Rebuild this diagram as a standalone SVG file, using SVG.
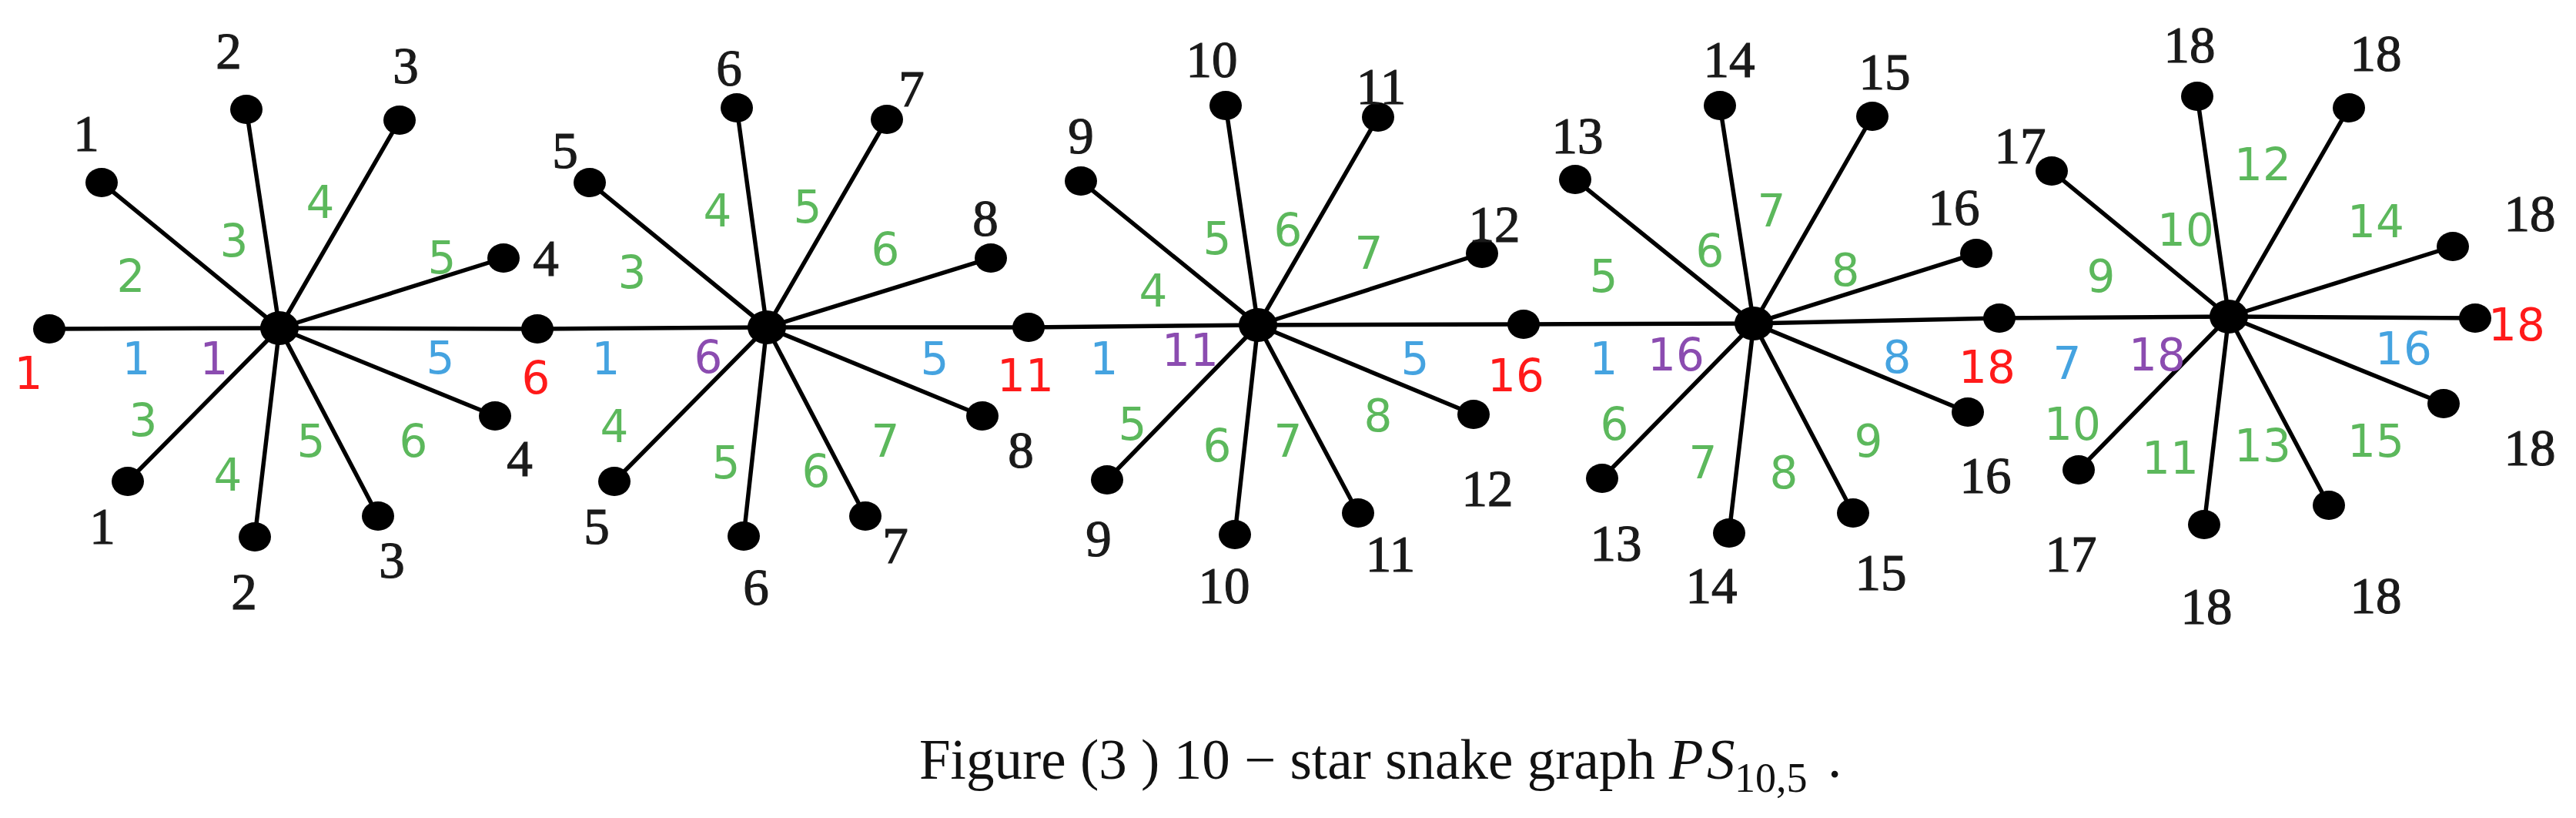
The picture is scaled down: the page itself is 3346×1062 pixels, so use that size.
<svg xmlns="http://www.w3.org/2000/svg" width="3346" height="1062" viewBox="0 0 3346 1062">
<style>
.e{stroke:#000;stroke-width:5.5;fill:none}
.n{fill:#000}
text{text-anchor:middle;dominant-baseline:central}
.k{font-family:"Liberation Serif",serif;font-size:67px;fill:#1a1a1a;stroke:#1a1a1a;stroke-width:1.2}
.g{font-family:"DejaVu Sans",sans-serif;font-size:58px;fill:#5cb85c}
.b{font-family:"DejaVu Sans",sans-serif;font-size:58px;fill:#45a3e0}
.p{font-family:"DejaVu Sans",sans-serif;font-size:58px;fill:#8b4cb0}
.r{font-family:"DejaVu Sans",sans-serif;font-size:58px;fill:#ff1a1a}
.cap{font-family:"Liberation Serif",serif;font-size:73px;fill:#111;text-anchor:start;dominant-baseline:auto}
.cap.sub{font-size:54px}
</style>
<rect width="3346" height="1062" fill="#fff"/>
<g id="connectors">
<polyline class="e" points="64,427 363,426 698,427 996,425 1336,425 1634,422 1979,421 2278,420 2597,413 2895,411 3215,413"/>
<path class="e" d="M363,426L132,237M363,426L320,142M363,426L519,156M363,426L654,335M363,426L643,540M363,426L491,670M363,426L331,697M363,426L166,625"/>
<path class="e" d="M996,425L766,237M996,425L957,140M996,425L1152,155M996,425L1287,335M996,425L1276,540M996,425L1124,670M996,425L966,696M996,425L798,625"/>
<path class="e" d="M1634,422L1404,235M1634,422L1592,137M1634,422L1790,152M1634,422L1925,329M1634,422L1914,538M1634,422L1764,666M1634,422L1604,694M1634,422L1438,623"/>
<path class="e" d="M2278,420L2046,233M2278,420L2234,137M2278,420L2432,151M2278,420L2567,329M2278,420L2556,535M2278,420L2407,666M2278,420L2246,692M2278,420L2081,621"/>
<path class="e" d="M2895,411L2665,222M2895,411L2854,125M2895,411L3051,140M2895,411L3186,320M2895,411L3174,524M2895,411L3025,656M2895,411L2863,681M2895,411L2700,610"/>
</g>
<g id="path-nodes">
<g id="v0"><ellipse class="n" cx="64" cy="427" rx="21" ry="19"/><text class="r" x="37" y="485">1</text></g>
<g id="v1"><ellipse class="n" cx="698" cy="427" rx="21" ry="19"/><text class="r" x="696" y="491">6</text></g>
<g id="v2"><ellipse class="n" cx="1336" cy="425" rx="21" ry="19"/><text class="r" x="1332" y="488">11</text></g>
<g id="v3"><ellipse class="n" cx="1979" cy="421" rx="21" ry="19"/><text class="r" x="1969" y="488">16</text></g>
<g id="v4"><ellipse class="n" cx="2597" cy="413" rx="21" ry="19"/><text class="r" x="2581" y="477">18</text></g>
<g id="v5"><ellipse class="n" cx="3215" cy="413" rx="21" ry="19"/><text class="r" x="3269" y="422">18</text></g>
</g>
<g id="star1">
<ellipse class="n" cx="363" cy="426" rx="25" ry="22"/>
<ellipse class="n" cx="132" cy="237" rx="21" ry="19"/><ellipse class="n" cx="320" cy="142" rx="21" ry="19"/><ellipse class="n" cx="519" cy="156" rx="21" ry="19"/><ellipse class="n" cx="654" cy="335" rx="21" ry="19"/><ellipse class="n" cx="643" cy="540" rx="21" ry="19"/><ellipse class="n" cx="491" cy="670" rx="21" ry="19"/><ellipse class="n" cx="331" cy="697" rx="21" ry="19"/><ellipse class="n" cx="166" cy="625" rx="21" ry="19"/>
<text class="k" x="112" y="173">1</text><text class="k" x="297" y="66">2</text><text class="k" x="527" y="85">3</text><text class="k" x="709" y="335">4</text><text class="k" x="675" y="595">4</text><text class="k" x="509" y="727">3</text><text class="k" x="317" y="768">2</text><text class="k" x="133" y="683">1</text>
<text class="g" x="170" y="359">2</text><text class="g" x="304" y="313">3</text><text class="g" x="416" y="263">4</text><text class="g" x="574" y="335">5</text><text class="g" x="186" y="546">3</text><text class="g" x="296" y="617">4</text><text class="g" x="404" y="573">5</text><text class="g" x="537" y="573">6</text>
<text class="b" x="177" y="466">1</text><text class="p" x="278" y="466">1</text><text class="b" x="572" y="465">5</text>
</g>
<g id="star2">
<ellipse class="n" cx="996" cy="425" rx="25" ry="22"/>
<ellipse class="n" cx="766" cy="237" rx="21" ry="19"/><ellipse class="n" cx="957" cy="140" rx="21" ry="19"/><ellipse class="n" cx="1152" cy="155" rx="21" ry="19"/><ellipse class="n" cx="1287" cy="335" rx="21" ry="19"/><ellipse class="n" cx="1276" cy="540" rx="21" ry="19"/><ellipse class="n" cx="1124" cy="670" rx="21" ry="19"/><ellipse class="n" cx="966" cy="696" rx="21" ry="19"/><ellipse class="n" cx="798" cy="625" rx="21" ry="19"/>
<text class="k" x="734" y="195">5</text><text class="k" x="947" y="88">6</text><text class="k" x="1184" y="115">7</text><text class="k" x="1280" y="283">8</text><text class="k" x="1326" y="584">8</text><text class="k" x="1163" y="708">7</text><text class="k" x="982" y="762">6</text><text class="k" x="775" y="683">5</text>
<text class="g" x="821" y="354">3</text><text class="g" x="932" y="274">4</text><text class="g" x="1049" y="269">5</text><text class="g" x="1150" y="324">6</text><text class="g" x="798" y="554">4</text><text class="g" x="943" y="601">5</text><text class="g" x="1060" y="612">6</text><text class="g" x="1150" y="573">7</text>
<text class="b" x="787" y="466">1</text><text class="p" x="920" y="464">6</text><text class="b" x="1214" y="466">5</text>
</g>
<g id="star3">
<ellipse class="n" cx="1634" cy="422" rx="25" ry="22"/>
<ellipse class="n" cx="1404" cy="235" rx="21" ry="19"/><ellipse class="n" cx="1592" cy="137" rx="21" ry="19"/><ellipse class="n" cx="1790" cy="152" rx="21" ry="19"/><ellipse class="n" cx="1925" cy="329" rx="21" ry="19"/><ellipse class="n" cx="1914" cy="538" rx="21" ry="19"/><ellipse class="n" cx="1764" cy="666" rx="21" ry="19"/><ellipse class="n" cx="1604" cy="694" rx="21" ry="19"/><ellipse class="n" cx="1438" cy="623" rx="21" ry="19"/>
<text class="k" x="1404" y="176">9</text><text class="k" x="1574" y="77">10</text><text class="k" x="1794" y="112">11</text><text class="k" x="1941" y="291">12</text><text class="k" x="1932" y="634">12</text><text class="k" x="1806" y="719">11</text><text class="k" x="1590" y="760">10</text><text class="k" x="1427" y="699">9</text>
<text class="g" x="1498" y="378">4</text><text class="g" x="1581" y="310">5</text><text class="g" x="1673" y="299">6</text><text class="g" x="1778" y="329">7</text><text class="g" x="1471" y="551">5</text><text class="g" x="1581" y="579">6</text><text class="g" x="1673" y="573">7</text><text class="g" x="1790" y="540">8</text>
<text class="b" x="1434" y="466">1</text><text class="p" x="1546" y="455">11</text><text class="b" x="1838" y="466">5</text>
</g>
<g id="star4">
<ellipse class="n" cx="2278" cy="420" rx="25" ry="22"/>
<ellipse class="n" cx="2046" cy="233" rx="21" ry="19"/><ellipse class="n" cx="2234" cy="137" rx="21" ry="19"/><ellipse class="n" cx="2432" cy="151" rx="21" ry="19"/><ellipse class="n" cx="2567" cy="329" rx="21" ry="19"/><ellipse class="n" cx="2556" cy="535" rx="21" ry="19"/><ellipse class="n" cx="2407" cy="666" rx="21" ry="19"/><ellipse class="n" cx="2246" cy="692" rx="21" ry="19"/><ellipse class="n" cx="2081" cy="621" rx="21" ry="19"/>
<text class="k" x="2049" y="176">13</text><text class="k" x="2246" y="77">14</text><text class="k" x="2448" y="93">15</text><text class="k" x="2538" y="269">16</text><text class="k" x="2579" y="617">16</text><text class="k" x="2443" y="743">15</text><text class="k" x="2223" y="760">14</text><text class="k" x="2099" y="705">13</text>
<text class="g" x="2083" y="359">5</text><text class="g" x="2221" y="326">6</text><text class="g" x="2301" y="274">7</text><text class="g" x="2397" y="351">8</text><text class="g" x="2097" y="551">6</text><text class="g" x="2212" y="601">7</text><text class="g" x="2317" y="614">8</text><text class="g" x="2427" y="573">9</text>
<text class="b" x="2083" y="466">1</text><text class="p" x="2177" y="461">16</text><text class="b" x="2464" y="464">8</text>
</g>
<g id="star5">
<ellipse class="n" cx="2895" cy="411" rx="25" ry="22"/>
<ellipse class="n" cx="2665" cy="222" rx="21" ry="19"/><ellipse class="n" cx="2854" cy="125" rx="21" ry="19"/><ellipse class="n" cx="3051" cy="140" rx="21" ry="19"/><ellipse class="n" cx="3186" cy="320" rx="21" ry="19"/><ellipse class="n" cx="3174" cy="524" rx="21" ry="19"/><ellipse class="n" cx="3025" cy="656" rx="21" ry="19"/><ellipse class="n" cx="2863" cy="681" rx="21" ry="19"/><ellipse class="n" cx="2700" cy="610" rx="21" ry="19"/>
<text class="k" x="2624" y="189">17</text><text class="k" x="2844" y="58">18</text><text class="k" x="3086" y="69">18</text><text class="k" x="3286" y="277">18</text><text class="k" x="3286" y="581">18</text><text class="k" x="3086" y="773">18</text><text class="k" x="2866" y="787">18</text><text class="k" x="2690" y="719">17</text>
<text class="g" x="2729" y="359">9</text><text class="g" x="2839" y="299">10</text><text class="g" x="2939" y="214">12</text><text class="g" x="3086" y="288">14</text><text class="g" x="2692" y="551">10</text><text class="g" x="2819" y="595">11</text><text class="g" x="2939" y="579">13</text><text class="g" x="3086" y="573">15</text>
<text class="b" x="2685" y="472">7</text><text class="p" x="2802" y="461">18</text><text class="b" x="3122" y="453">16</text>
</g>
<g id="caption">
<text class="cap" x="1194" y="1011" textLength="956" lengthAdjust="spacing">Figure (3 ) 10 − star snake graph</text>
<text class="cap" x="2168" y="1011" font-style="italic">P</text>
<text class="cap" x="2217" y="1011" font-style="italic">S</text>
<text class="cap sub" x="2253" y="1028">10,5</text>
<text class="cap" x="2374" y="1009">.</text>
</g>
</svg>
